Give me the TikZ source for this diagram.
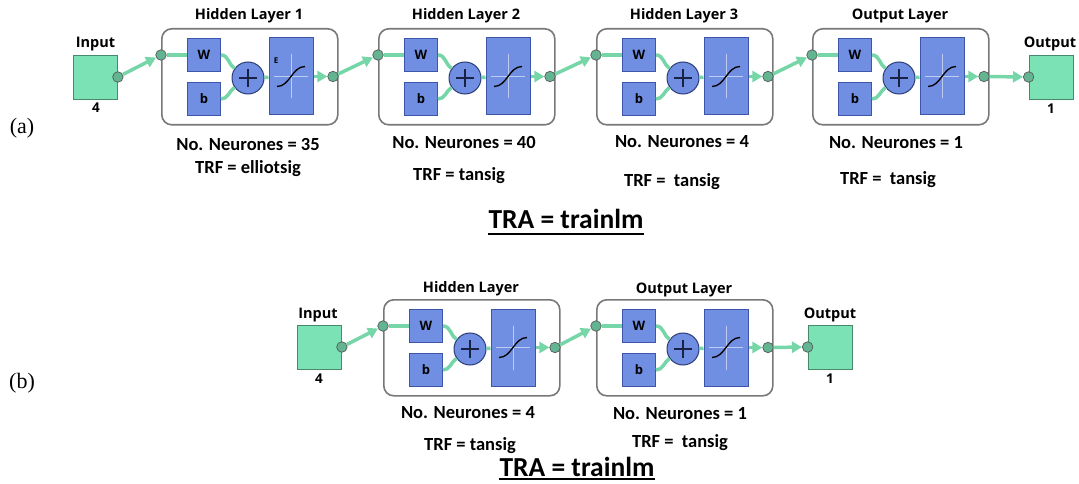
\documentclass[tikz,border=0pt]{standalone}
\usepackage{fontspec}
\setmainfont{Carlito}
\newfontfamily\netfont{Open Sans}
\newfontfamily\capfont{Liberation Serif}
\usetikzlibrary{arrows.meta}

\definecolor{netgreen}{RGB}{122,226,180}
\definecolor{wiregreen}{RGB}{118,214,168}
\definecolor{netblue}{RGB}{112,142,226}
\definecolor{edgeblue}{RGB}{62,86,170}
\definecolor{framegray}{RGB}{120,120,120}

\begin{document}
\begin{tikzpicture}[x=1pt, y=-1pt, every node/.style={inner sep=0pt},
	wire/.style={wiregreen, line width=3.5pt},
	feed/.style={wire, -{Triangle[length=10pt, width=11pt]}},
	joint/.style={circle, draw=black!65, fill=netgreen!80!black, line width=0.7pt, minimum size=10.5pt},
	port/.style={draw=netgreen!60!black, fill=netgreen, line width=0.8pt, minimum width=44pt, minimum height=44pt},
	layer/.style={draw=framegray, line width=1.6pt, rounded corners=10pt, fill=white, minimum width=176pt, minimum height=96pt},
	neuro/.style={draw=edgeblue, fill=netblue, line width=1pt, font=\netfont\bfseries\fontsize{13}{13}\selectfont},
	wbox/.style={neuro, minimum width=33pt, minimum height=33pt},
	tfbox/.style={neuro, minimum width=44pt, minimum height=77pt},
	adder/.style={neuro, circle, minimum size=32pt, draw=edgeblue!70!black},
	ltitle/.style={anchor=base, font=\netfont\bfseries\fontsize{14.5}{14.5}\selectfont},
	psize/.style={anchor=base, font=\netfont\bfseries\fontsize{13.5}{13.5}\selectfont},
	lnote/.style={anchor=base, font=\bfseries\fontsize{18.5}{18.5}\selectfont},
	tratext/.style={anchor=base, font=\bfseries\fontsize{27.5}{27.5}\selectfont},
	panel/.style={anchor=base, font=\capfont\fontsize{22}{22}\selectfont}]
	\useasboundingbox (0,0) rectangle (1079,484);
	% layers: name / left / top / title / title baseline
	\foreach \nm/\lx/\ly/\ttl/\tb in {h1/161/28/Hidden Layer 1/20, h2/378/28/Hidden Layer 2/20, h3/596/28/Hidden Layer 3/20, o1/812/28/Output Layer/20, h4/383/299/Hidden Layer/292, o2/596/299/Output Layer/293} {
		\node[layer, anchor=north west] (\nm) at (\lx,\ly) {};
		\node[ltitle] (\nm-t) at (\lx+88,\tb) {\ttl};
		\node[joint] (\nm-i) at (\lx,\ly+27) {};
		\node[wbox] (\nm-w) at (\lx+43,\ly+27) {W};
		\node[wbox] (\nm-b) at (\lx+43,\ly+71) {b};
		\node[adder] (\nm-p) at (\lx+87,\ly+50) {};
		\node[tfbox] (\nm-f) at (\lx+130,\ly+48.5) {};
		\node[joint] (\nm-o) at (\lx+172,\ly+48.5) {};
		\draw[wire] (\nm-i) -- (\nm-w);
		\draw[wire] (\nm-w.east) to[out=0, in=145] (\nm-p.145);
		\draw[wire] (\nm-b.east) to[out=0, in=215] (\nm-p.215);
		\draw[wire] (\nm-p) -- (\nm-f);
		\draw[feed] (\nm-f) -- (\nm-o);
		\draw[edgeblue!40!black, line width=1.4pt] ([xshift=-9pt]\nm-p.center) -- ([xshift=9pt]\nm-p.center) ([yshift=-9pt]\nm-p.center) -- ([yshift=9pt]\nm-p.center);
		\draw[white!55!netblue, line width=0.8pt] ([xshift=-17pt]\nm-f.center) -- ([xshift=17pt]\nm-f.center) ([yshift=-22pt]\nm-f.center) -- ([yshift=22pt]\nm-f.center);
		\draw[black, line width=1.3pt] ([shift={(-14pt,-10pt)}]\nm-f.center) .. controls ([shift={(-1pt,-10pt)}]\nm-f.center) and ([shift={(1pt,10pt)}]\nm-f.center) .. ([shift={(14pt,10pt)}]\nm-f.center);
	}
	\node[font=\netfont\bfseries\fontsize{8}{8}\selectfont] (h1-e) at ([shift={(-15pt,16pt)}]h1-f.center) {E};
	% (a) input and output
	\node[port] (inA) at (95.5,77) {};
	\node[joint] (inA-o) at (inA.east) {};
	\node[ltitle] (inA-t) at (95.5,48) {Input};
	\node[psize] (inA-n) at (96,113) {4};
	\node[port] (outA) at (1051,77) {};
	\node[joint] (outA-i) at (outA.west) {};
	\node[ltitle] (outA-t) at (1050,48) {Output};
	\node[psize] (outA-n) at (1051,114) {1};
	\draw[feed] (inA-o) -- (h1-i);
	\draw[feed] (h1-o) -- (h2-i);
	\draw[feed] (h2-o) -- (h3-i);
	\draw[feed] (h3-o) -- (o1-i);
	\draw[feed] (o1-o) -- (outA-i);
	\node[lnote] (h1-n) at (248,150) {No. Neurones = 35};
	\node[lnote] (h1-r) at (248,174) {TRF = elliotsig};
	\node[lnote] (h2-n) at (464,149) {No. Neurones = 40};
	\node[lnote] (h2-r) at (459,180) {TRF = tansig};
	\node[lnote] (h3-n) at (682,147) {No. Neurones = 4};
	\node[lnote] (h3-r) at (672,186) {TRF =\ \ tansig};
	\node[lnote] (o1-n) at (896,149) {No. Neurones = 1};
	\node[lnote] (o1-r) at (888,185) {TRF =\ \ tansig};
	\node[tratext] (traA) at (566,228) {TRA = trainlm};
	\draw[line width=1.6pt] ([yshift=-6pt]traA.base west) -- ([yshift=-6pt]traA.base east);
	\node[panel] (capA) at (22,134) {(a)};
	% (b) input and output
	\node[port] (inB) at (319.5,347) {};
	\node[joint] (inB-o) at (inB.east) {};
	\node[ltitle] (inB-t) at (318,318) {Input};
	\node[psize] (inB-n) at (319,383) {4};
	\node[port] (outB) at (830,347) {};
	\node[joint] (outB-i) at (outB.west) {};
	\node[ltitle] (outB-t) at (830,318) {Output};
	\node[psize] (outB-n) at (830,383) {1};
	\draw[feed] (inB-o) -- (h4-i);
	\draw[feed] (h4-o) -- (o2-i);
	\draw[feed] (o2-o) -- (outB-i);
	\node[lnote] (h4-n) at (468,418) {No. Neurones = 4};
	\node[lnote] (h4-r) at (470,450) {TRF = tansig};
	\node[lnote] (o2-n) at (680,419) {No. Neurones = 1};
	\node[lnote] (o2-r) at (680,447) {TRF =\ \ tansig};
	\node[tratext] (traB) at (577,476) {TRA = trainlm};
	\draw[line width=1.6pt] ([yshift=-3pt]traB.base west) -- ([yshift=-3pt]traB.base east);
	\node[panel] (capB) at (22,388) {(b)};
\end{tikzpicture}
\end{document}
